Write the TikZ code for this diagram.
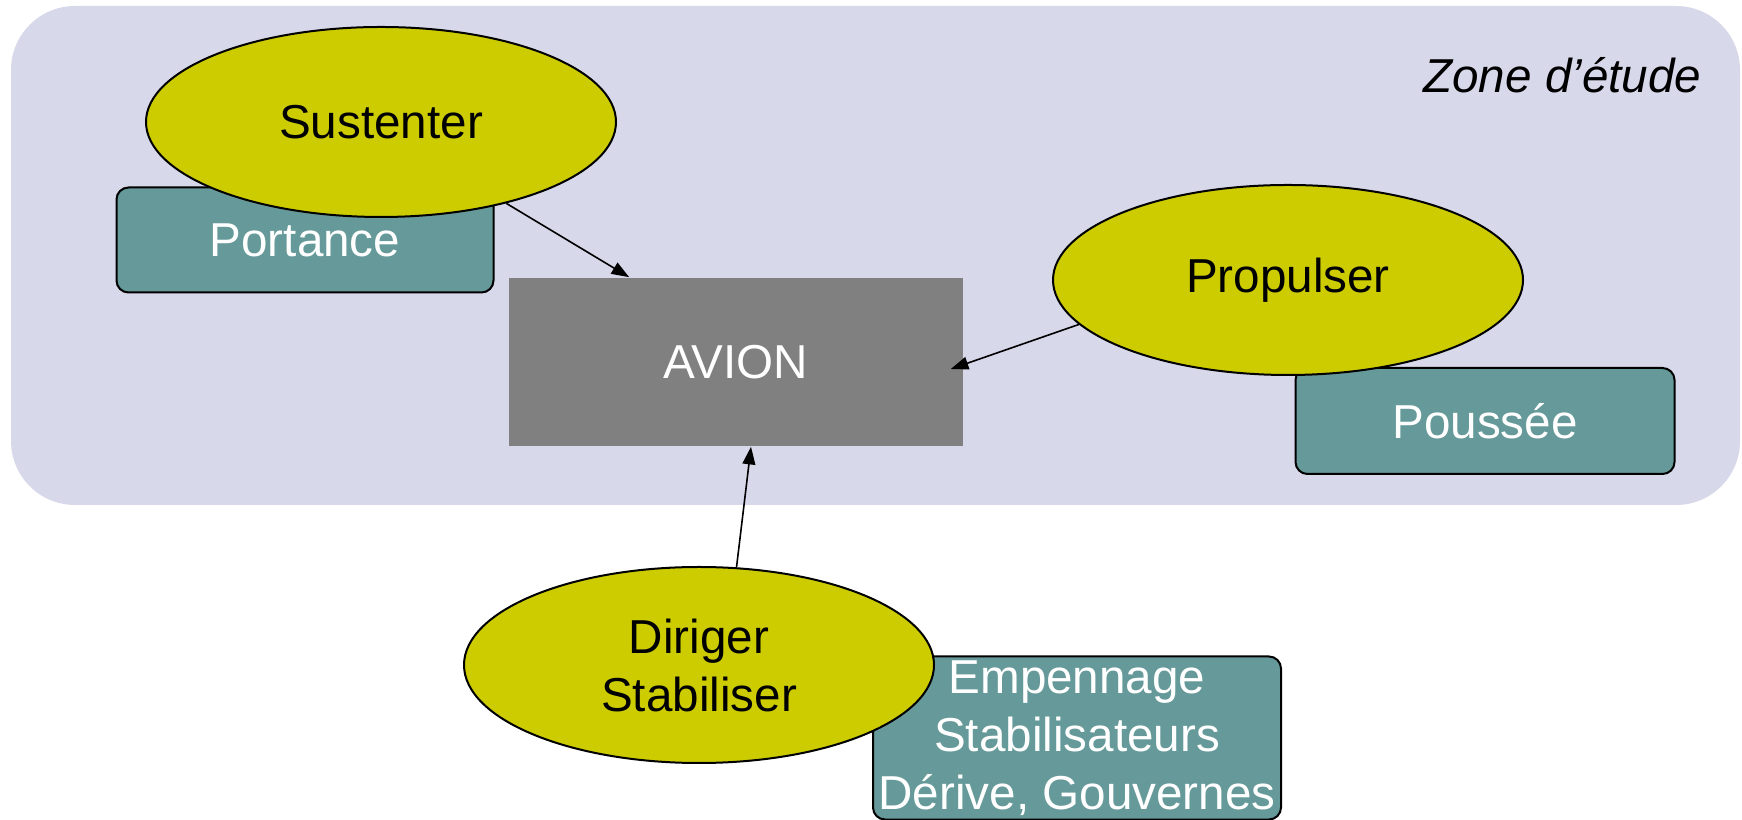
\documentclass[tikz,border=0pt]{standalone}
\usepackage{fontspec}
\setmainfont{Liberation Sans}
\usetikzlibrary{shapes.geometric,arrows.meta}

\definecolor{ZoneBack}{HTML}{D8D8EB}
\definecolor{FuncYellow}{HTML}{CCCC00}
\definecolor{PartTeal}{HTML}{669999}
\definecolor{PlaneGray}{HTML}{808080}

\tikzset{
  func/.style={ellipse,draw=black,fill=FuncYellow,line width=0.5pt,minimum width=117.5pt,minimum height=47.5pt,inner sep=0pt,align=center},
  part/.style={rectangle,rounded corners=3pt,draw=black,fill=PartTeal,line width=0.5pt,text=white,inner sep=0pt,align=center},
  plane/.style={rectangle,fill=PlaneGray,text=white,minimum width=113.5pt,minimum height=42pt,inner sep=0pt},
  arr/.style={-{Triangle[length=4.4pt,width=3.2pt]},line width=0.4pt},
}

\begin{document}
\begin{tikzpicture}[x=0.25pt,y=-0.25pt,font=\fontsize{11.9pt}{14.5pt}\selectfont]
    \useasboundingbox (0,0) rectangle (1742,820);
    \fill[ZoneBack,rounded corners=16pt] (11,6) rectangle (1740,505);
    \node[anchor=base east,inner sep=0pt,font=\fontsize{11.9pt}{14.5pt}\selectfont\itshape] (zone) at (1702,93) {Zone d’étude};

    \node[plane] (avion) at (736,362) {AVION};

    \node[part,minimum width=94.25pt,minimum height=26.25pt] (port) at (305,240) {Portance};
    \node[func] (sust) at (381,122) {Sustenter};

    \node[part,minimum width=94.75pt,minimum height=26.5pt] (pous) at (1485,421) {Poussée};
    \node[func] (prop) at (1288,280) {Propulser};

    \node[part,minimum width=102pt,minimum height=40.75pt,text depth=1.5pt] (emp) at (1077,738) {Empennage\\Stabilisateurs\\Dérive, Gouvernes};
    \node[func,minimum height=49pt] (dir) at (699,665) {Diriger\\Stabiliser};

    \draw[arr] (sust.-33) -- ([xshift=30.25pt]avion.north west);
    \draw[arr] (prop.192) -- ([xshift=-3.25pt,yshift=-1.75pt]avion.east);
    \draw[arr] (dir.69) -- ([xshift=3.75pt]avion.south);
\end{tikzpicture}
\end{document}
